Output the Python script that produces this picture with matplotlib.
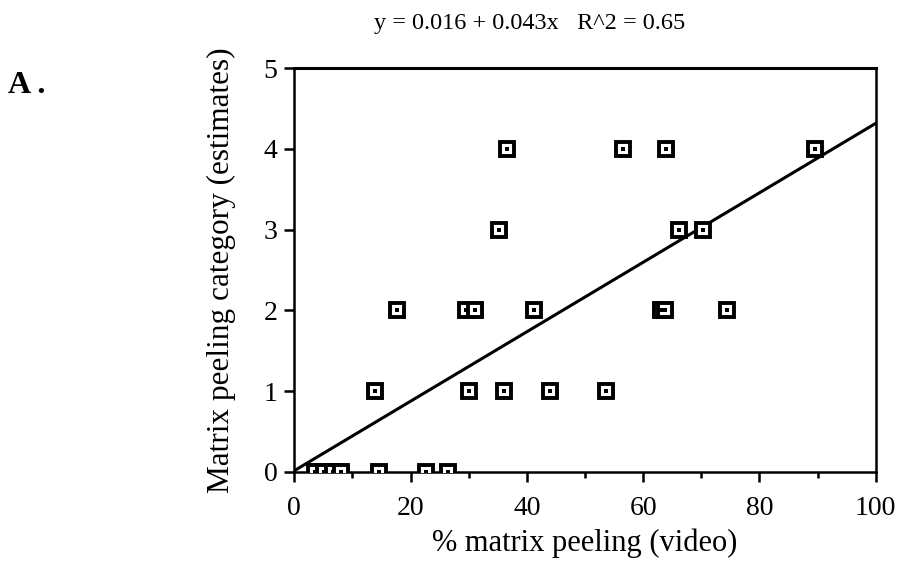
import numpy as np
import matplotlib
matplotlib.use('Agg')
import matplotlib.pyplot as plt
from matplotlib.ticker import MultipleLocator

# data (x = % peeling from video, y = estimated category)
video_pct = [3.6, 5.1, 6.6, 8.1, 14.6, 22.6, 26.5,
             13.8, 30.0, 36.0, 43.9, 53.6,
             17.7, 29.6, 31.0, 41.2, 63.0, 63.7, 74.5,
             35.2, 66.2, 70.3,
             36.5, 56.6, 64.0, 89.5]
category = [0, 0, 0, 0, 0, 0, 0,
            1, 1, 1, 1, 1,
            2, 2, 2, 2, 2, 2, 2,
            3, 3, 3,
            4, 4, 4, 4]

# regression from the title
intercept = 0.016
slope = 0.043
r2 = 0.65

plt.rcParams['font.family'] = ['Liberation Serif', 'DejaVu Serif']

fig = plt.figure(figsize=(9, 5.77), dpi=100)
ax = fig.add_axes([0.327, 0.182, 0.646, 0.700])

xs = np.array([0, 100])
ax.plot(xs, intercept + slope * xs, color='black', lw=2.2, zorder=2)

# square markers: black frame, white inside, black dot in middle
ax.plot(video_pct, category, ls='none', marker='s', ms=9.5, mfc='white',
        mec='black', mew=2.8, zorder=3, clip_on=True)
ax.plot(video_pct, category, ls='none', marker='s', ms=2.2, mfc='black',
        mec='black', mew=0, zorder=4, clip_on=True)

ax.set_xlim(0, 100)
ax.set_ylim(0, 5)
ax.xaxis.set_major_locator(MultipleLocator(20))
ax.xaxis.set_minor_locator(MultipleLocator(10))
ax.yaxis.set_major_locator(MultipleLocator(1))

for s in ax.spines.values():
    s.set_linewidth(1.8)
ax.spines['top'].set_linewidth(2.2)

ax.tick_params(axis='both', which='major', direction='out', length=7,
               width=1.8, labelsize=20)
ax.tick_params(axis='x', which='major', pad=10)
ax.tick_params(axis='y', which='major', pad=5)
ax.tick_params(axis='x', which='minor', direction='out', length=4, width=1.8)

ax.set_xlabel('% matrix peeling (video)', fontsize=22, labelpad=6)
ax.set_ylabel('Matrix peeling category (estimates)', fontsize=22.5, labelpad=20)

fig.text(0.589, 0.960, f'y = {intercept} + {slope}x   R^2 = {r2}',
         ha='center', va='center', fontsize=17.5)
fig.text(0.009, 0.839, 'A .', ha='left', va='baseline', fontsize=23,
         fontweight='bold')

fig.savefig('out.png', dpi=100)
